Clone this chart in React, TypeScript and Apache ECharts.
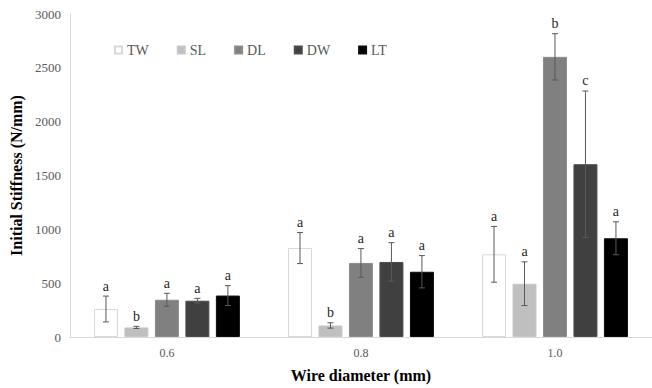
import React, { useEffect, useRef } from "react";
import * as echarts from "echarts";

const categories = ["0.6", "0.8", "1.0"];
const seriesNames = ["TW", "SL", "DL", "DW", "LT"];
const colors = ["#ffffff", "#bfbfbf", "#808080", "#404040", "#000000"];
const borderColors = ["#d9d9d9", "#c8c8c8", "#8c8c8c", "#4d4d4d", "#0d0d0d"];

const valuesTW = [260, 826, 768];
const valuesSL = [89, 107, 495];
const valuesDL = [346, 688, 2602];
const valuesDW = [337, 697, 1605];
const valuesLT = [385, 606, 917];

const errTW = [120, 144, 259];
const errSL = [10, 25, 203];
const errDL = [60, 133, 215];
const errDW = [22, 179, 680];
const errLT = [92, 150, 153];

const lettersTW = ["a", "a", "a"];
const lettersSL = ["b", "b", "a"];
const lettersDL = ["a", "a", "b"];
const lettersDW = ["a", "a", "c"];
const lettersLT = ["a", "a", "a"];

const yTicks = { min: 0, max: 3000, interval: 500 };

const allValues = [valuesTW, valuesSL, valuesDL, valuesDW, valuesLT];
const allErrs = [errTW, errSL, errDL, errDW, errLT];
const allLetters = [lettersTW, lettersSL, lettersDL, lettersDW, lettersLT];

export default function App() {
  const ref = useRef<HTMLDivElement>(null);
  useEffect(() => {
    if (!ref.current) return;
    const chart = echarts.init(ref.current, null, { renderer: "svg" });
    const font = "Liberation Serif";
    const barWidth = 24;
    const barGapRatio = 0.27;

    const errData: any[] = [];
    const errLetters: string[] = [];
    allValues.forEach((vals, si) => {
      vals.forEach((v, ci) => {
        errData.push([ci, si, v - allErrs[si][ci], v + allErrs[si][ci]]);
        errLetters.push(allLetters[si][ci]);
      });
    });

    const barSeries = seriesNames.map((name, i) => ({
      name,
      type: "bar",
      data: allValues[i],
      barWidth,
      barGap: barGapRatio * 100 + "%",
      itemStyle: { color: colors[i], borderColor: borderColors[i], borderWidth: 1 },
    }));

    const option: any = {
      animation: false,
      textStyle: { fontFamily: font },
      grid: { left: 62, right: -4, top: 14, bottom: 47, containLabel: false },
      legend: {
        data: seriesNames,
        left: 109,
        top: 38,
        icon: "rect",
        itemWidth: 7,
        itemHeight: 7,
        itemGap: 28,
        textStyle: { fontFamily: font, fontSize: 14, color: "#595959" },
      },
      xAxis: {
        type: "category",
        data: categories,
        axisLine: { lineStyle: { color: "#d9d9d9", width: 1 } },
        axisTick: { show: false },
        axisLabel: { fontFamily: font, fontSize: 12, color: "#595959", margin: 10 },
        name: "Wire diameter (mm)",
        nameLocation: "middle",
        nameGap: 30,
        nameTextStyle: { fontFamily: font, fontSize: 16, fontWeight: "bold", color: "#000000" },
      },
      yAxis: {
        type: "value",
        min: yTicks.min,
        max: yTicks.max,
        interval: yTicks.interval,
        splitLine: { show: false },
        axisLine: { show: true, lineStyle: { color: "#d9d9d9", width: 1 } },
        axisTick: { show: false },
        axisLabel: {
          fontFamily: font,
          fontSize: 13,
          color: "#595959",
          margin: 9,
          formatter: (v: number) => String(v),
        },
        name: "Initial Stiffness (N/mm)",
        nameLocation: "middle",
        nameGap: 40,
        nameTextStyle: { fontFamily: font, fontSize: 16, fontWeight: "bold", color: "#000000" },
      },
      series: [
        ...barSeries,
        {
          type: "custom",
          name: "err",
          data: errData,
          z: 10,
          encode: { x: 0, y: [2, 3] },
          renderItem: (params: any, api: any) => {
            const ci = api.value(0);
            const si = api.value(1);
            const lo = api.value(2);
            const hi = api.value(3);
            const step = barWidth * (1 + barGapRatio);
            const xc = api.coord([ci, 0])[0] + (si - 2) * step;
            const yLo = api.coord([ci, lo])[1];
            const yHi = api.coord([ci, hi])[1];
            const cap = 3;
            const stroke = { stroke: "#595959", lineWidth: 1 };
            return {
              type: "group",
              children: [
                { type: "line", shape: { x1: xc, y1: yLo, x2: xc, y2: yHi }, style: stroke },
                { type: "line", shape: { x1: xc - cap, y1: yLo, x2: xc + cap, y2: yLo }, style: stroke },
                { type: "line", shape: { x1: xc - cap, y1: yHi, x2: xc + cap, y2: yHi }, style: stroke },
                {
                  type: "text",
                  x: xc,
                  y: yHi - 3,
                  style: {
                    text: errLetters[params.dataIndex],
                    fontFamily: font,
                    fontSize: 14,
                    fill: "#262626",
                    align: "center",
                    verticalAlign: "bottom",
                  },
                },
              ],
            };
          },
        },
      ],
    };
    chart.setOption(option);
    return () => chart.dispose();
  }, []);
  return (
    <div
      ref={ref}
      style={{ position: "fixed", left: 0, top: 0, width: 652, height: 388, background: "#ffffff" }}
    />
  );
}
